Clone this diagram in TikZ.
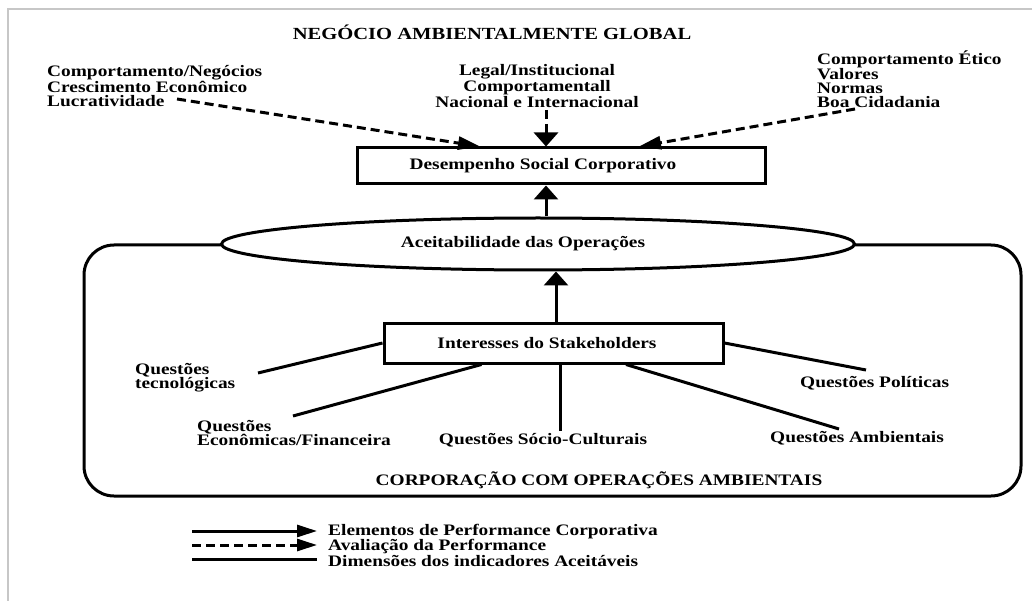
\documentclass[tikz,border=0pt]{standalone}
\usepackage{fontspec}
\newfontfamily\figfont{Liberation Serif}[FakeStretch=1.21]
\usetikzlibrary{arrows.meta,shapes.geometric}
\tikzset{
  txt/.style={inner sep=0pt, font={\figfont\bfseries\fontsize{16}{14}\selectfont}},
  ttl/.style={inner sep=0pt, font={\figfont\bfseries\fontsize{17}{15}\selectfont}},
  frame/.style={draw, line width=3pt, inner sep=0pt},
  link/.style={line width=3pt},
  eval/.style={line width=3pt, dash pattern=on 9pt off 5pt},
  tipH/.style={-{Triangle[length=22pt,width=13pt]}},
  tipV/.style={-{Triangle[length=14pt,width=24pt]}},
  tipL/.style={-{Triangle[length=20pt,width=12pt]}},
}
\begin{document}
\begin{tikzpicture}[x=1pt,y=-1pt]
\useasboundingbox (0,0) rectangle (1032,601);
\fill[white] (0,0) rectangle (1032,601);
% outer page rule
\draw[line width=1.5pt, black!22] (8,601) -- (8,9) -- (1032,9);

% heading and the three sources of expectations
\node[ttl] (title) at (492,32) {NEGÓCIO AMBIENTALMENTE GLOBAL};
\node[txt, anchor=west, align=left] (econ) at (47,86)
  {Comportamento/Negócios\\Crescimento Econômico\\Lucratividade};
\node[txt, align=center] (legal) at (537,86)
  {Legal/Institucional\\Comportamentall\\Nacional e Internacional};
\node[txt, anchor=west, align=left] (etic) at (817,79)
  {Comportamento Ético\\Valores\\Normas\\Boa Cidadania};

% corporate social performance
\node[frame, minimum width=408pt, minimum height=36pt] (dsc) at (561,166) {};
\node[txt] (dsct) at (543,166) {Desempenho Social Corporativo};

% corporation boundary
\draw[link, rounded corners=30pt] (84,245) rectangle (1021,496);
\node[txt] (corp) at (599,480) {CORPORAÇÃO COM OPERAÇÕES AMBIENTAIS};

% acceptability of operations
\node[ellipse, draw, line width=3pt, fill=white, minimum width=633pt, minimum height=52pt, inner sep=0pt] (ell) at (538,244) {};
\node[txt] (ellt) at (523,244) {Aceitabilidade das Operações};

% stakeholder interests
\node[frame, fill=white, minimum width=339pt, minimum height=40pt] (isb) at (553.5,343) {};
\node[txt] (isbt) at (547,343) {Interesses do Stakeholders};

% issue labels
\node[txt, anchor=west, align=left] (qtec) at (135,377.5) {Questões\\tecnológicas};
\node[txt, anchor=west, align=left] (qeco) at (197,433) {Questões\\Econômicas/Financeira};
\node[txt] (qsoc) at (543,440) {Questões Sócio-Culturais};
\node[txt, anchor=west] (qpol) at (800,383) {Questões Políticas};
\node[txt, anchor=west] (qamb) at (770,438) {Questões Ambientais};

% free ends of the connectors
\coordinate (econEnd) at (177,99);
\coordinate (legalEnd) at (546,110);
\coordinate (eticEnd) at (855,109);
\coordinate (tecEnd) at (258,373);
\coordinate (ecoEnd) at (293,416);
\coordinate (socEnd) at (560,431);
\coordinate (ambEnd) at (839,429);
\coordinate (polEnd) at (866,370);

% performance evaluation (dashed)
\draw[eval, tipH] (econEnd) -- ([xshift=-81pt]dsc.north);
\draw[eval, tipV] (legalEnd) -- ([xshift=-15pt]dsc.north);
\draw[eval, tipH] (eticEnd) -- ([xshift=78pt]dsc.north);

% performance elements (solid arrows)
\draw[link, tipV] ([xshift=8pt]ell.north) -- ([xshift=8pt]ell.north |- dsc.south);
\draw[link, tipV] ([xshift=2.5pt]isb.north) -- ([xshift=2.5pt]isb.north |- ell.south);

% indicator dimensions (plain lines)
\draw[link] (isb.west) -- (tecEnd);
\draw[link] ([xshift=99pt]isb.south west) -- (ecoEnd);
\draw[link] ([xshift=6.5pt]isb.south) -- (socEnd);
\draw[link] ([xshift=72.5pt]isb.south) -- (ambEnd);
\draw[link] (isb.east) -- (polEnd);

% key
\coordinate (k1a) at (192,531); \coordinate (k1b) at (317,531);
\coordinate (k2a) at (192,545); \coordinate (k2b) at (317,545);
\coordinate (k3a) at (192,559); \coordinate (k3b) at (317,559);
\draw[link, tipL] (k1a) -- (k1b);
\draw[eval, tipL] (k2a) -- (k2b);
\draw[link] (k3a) -- (k3b);
\node[txt, anchor=west, align=left] (key) at (328,545)
  {Elementos de Performance Corporativa\\Avaliação da Performance\\Dimensões dos indicadores Aceitáveis};
\end{tikzpicture}
\end{document}
